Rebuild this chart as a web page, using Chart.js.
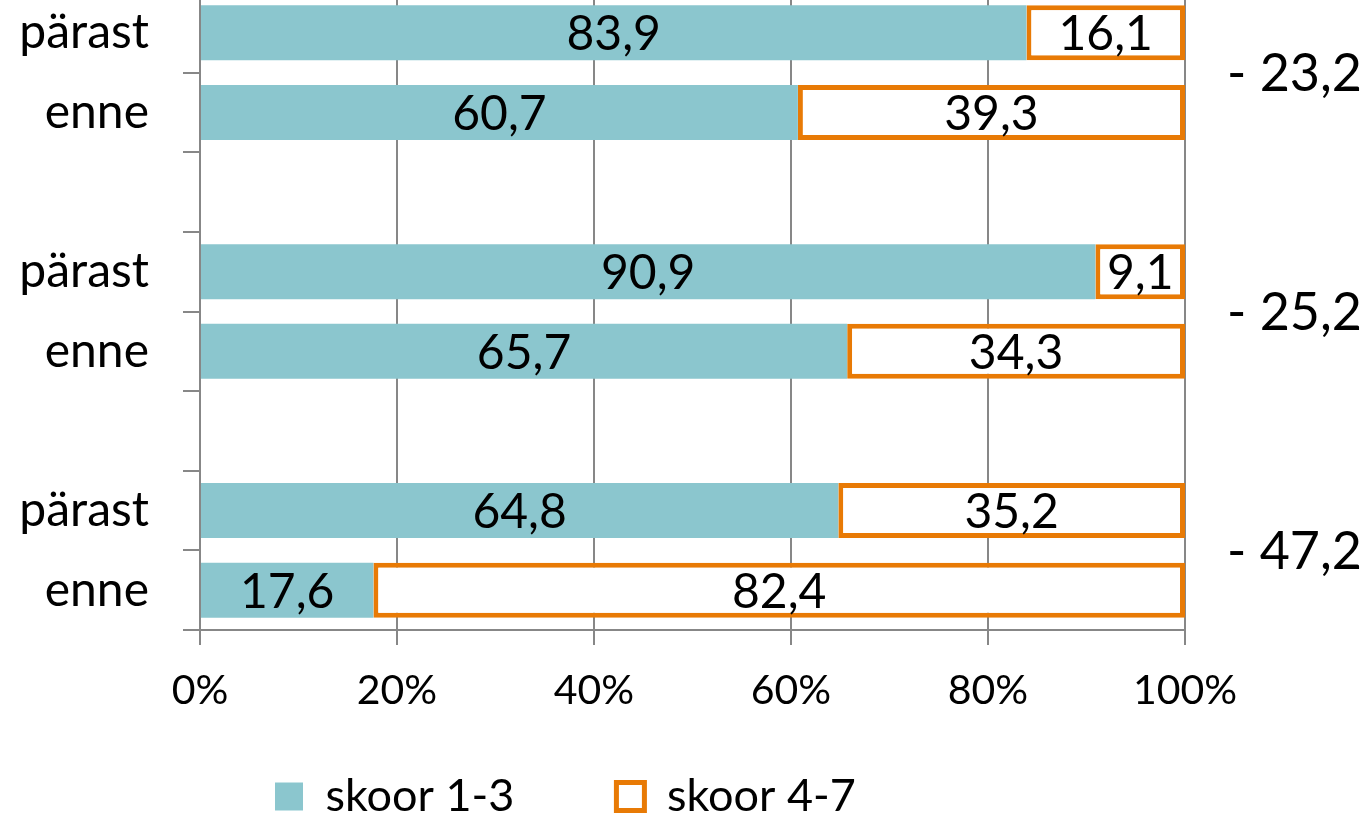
<!DOCTYPE html>
<html>
<head>
<meta charset="utf-8">
<script src="https://cdn.jsdelivr.net/npm/chart.js@4"></script>
<style>
    html, body { margin: 0; padding: 0; background: #fff; overflow: hidden; }
    #wrap { position: relative; width: 1368px; height: 836px; margin-top: -7px; }
</style>
</head>
<body>
<div id="wrap"><canvas id="chart"></canvas></div>
<script>
const kategooriad = ["pärast", "enne", "", "pärast", "enne", "", "pärast", "enne"];
const skoor13 = [83.9, 60.7, null, 90.9, 65.7, null, 64.8, 17.6];
const skoor47 = [16.1, 39.3, null, 9.1, 34.3, null, 35.2, 82.4];
const vahed = ["- 23,2", "- 25,2", "- 47,2"];
const xTicks = [0, 20, 40, 60, 80, 100];

const FONT = "Lato, 'Noto Sans', sans-serif";
const TEAL = "#8bc6ce";
const ORANGE = "#e87a05";
const GRID = "#878787";

function vorminda(v) {
    return v.toFixed(1).replace(".", ",");
}

// numbers inside the bars
const sildid = {
    id: "sildid",
    afterDatasetsDraw(chart) {
        const ctx = chart.ctx;
        ctx.save();
        ctx.font = "48px " + FONT;
        ctx.fillStyle = "#000";
        ctx.textAlign = "center";
        ctx.textBaseline = "middle";
        chart.data.datasets.forEach((ds, i) => {
            chart.getDatasetMeta(i).data.forEach((bar, j) => {
                const v = ds.data[j];
                if (v == null) return;
                const left = Math.min(bar.x, bar.base);
                const right = Math.max(bar.x, bar.base);
                ctx.fillText(vorminda(v), (left + right) / 2, bar.y + 2);
            });
        });
        ctx.restore();
    }
};

// differences on the right side
const vahedPlugin = {
    id: "vahed",
    afterDraw(chart) {
        const ctx = chart.ctx;
        const y = chart.scales.y;
        ctx.save();
        ctx.font = "52px " + FONT;
        ctx.fillStyle = "#000";
        ctx.textAlign = "left";
        ctx.textBaseline = "middle";
        vahed.forEach((t, k) => {
            const yy = (y.getPixelForValue(k * 3) + y.getPixelForValue(k * 3 + 1)) / 2;
            ctx.fillText(t, chart.chartArea.right + 42, yy + 2);
        });
        ctx.restore();
    }
};

// legend sits a bit left of centre in the original,
// and the x labels may hang below the (short) x scale box
const nihked = {
    id: "nihked",
    afterLayout(chart) {
        const lg = chart.legend;
        const pad = lg.options.labels.padding;
        const start = (lg.left + pad + lg.right - lg.lineWidths[0]) / 2;
        const d = 275 - start;
        lg.left += d;
        lg.right += d;
        chart.scales.x.bottom = chart.height;
    }
};

window.onload = function () {
    const ctx = document.getElementById("chart").getContext("2d");
    new Chart(ctx, {
        type: "bar",
        data: {
            labels: kategooriad,
            datasets: [
                {
                    label: "skoor 1-3",
                    data: skoor13,
                    backgroundColor: TEAL,
                    borderWidth: 0
                },
                {
                    label: "skoor 4-7",
                    data: skoor47,
                    backgroundColor: "#fff",
                    borderColor: ORANGE,
                    borderWidth: 5,
                    borderSkipped: false
                }
            ]
        },
        options: {
            indexAxis: "y",
            responsive: true,
            maintainAspectRatio: false,
            animation: false,
            events: [],
            layout: { padding: { left: 0, right: 183, top: 0, bottom: 0 } },
            datasets: { bar: { categoryPercentage: 1, barPercentage: 0.69 } },
            scales: {
                x: {
                    stacked: true,
                    min: 0,
                    max: 100,
                    afterBuildTicks(scale) {
                        scale.ticks = xTicks.map(v => ({ value: v }));
                    },
                    afterFit(scale) { scale.height = 42; },
                    ticks: {
                        callback: v => v + "%",
                        font: { family: FONT, size: 41 },
                        color: "#000",
                        padding: 21,
                        maxRotation: 0
                    },
                    grid: { color: GRID, lineWidth: 2, tickLength: 15, tickColor: GRID },
                    border: { color: GRID, width: 2 }
                },
                y: {
                    stacked: true,
                    afterFit(scale) {
                        scale.width = 200;
                        scale.paddingTop = 0;
                        scale.paddingBottom = 0;
                    },
                    ticks: {
                        font: { family: FONT, size: 48 },
                        color: "#000",
                        padding: 34
                    },
                    grid: { drawOnChartArea: false, color: GRID, lineWidth: 2, tickLength: 17, tickColor: GRID, offset: true },
                    border: { color: GRID, width: 2 }
                }
            },
            plugins: {
                legend: {
                    position: "bottom",
                    labels: {
                        font: { family: FONT, size: 45 },
                        color: "#000",
                        boxWidth: 28,
                        boxHeight: 28,
                        padding: 102,
                        useBorderRadius: false
                    }
                },
                tooltip: { enabled: false }
            }
        },
        plugins: [sildid, vahedPlugin, nihked]
    });
};
</script>
</body>
</html>
